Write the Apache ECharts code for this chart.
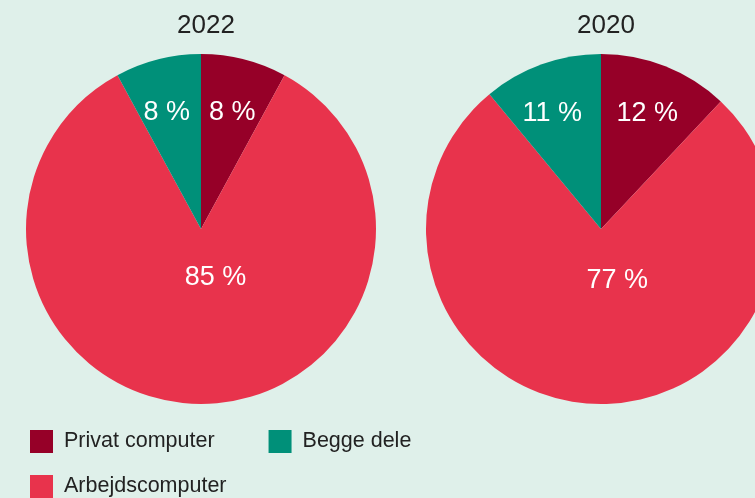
<!DOCTYPE html>
<html>
<head>
<meta charset="utf-8">
<script src="https://cdn.jsdelivr.net/npm/echarts@6/dist/echarts.min.js"></script>
<style>
html,body{margin:0;padding:0;background:#dff0ea;}
#chart{width:755px;height:498px;}
</style>
</head>
<body>
<div id="chart"></div>
<script>
// Data
const categories = ['Privat computer', 'Arbejdscomputer', 'Begge dele'];
const years = ['2022', '2020'];
const values2022 = [8, 85, 8];
const values2020 = [12, 77, 11];
const labels2022 = ['8 %', '85 %', '8 %'];
const labels2020 = ['12 %', '77 %', '11 %'];

// Styling
const colors = ['#960028', '#e8334c', '#009079'];
const font = '"Liberation Sans", Arial, Helvetica, sans-serif';
// label nudges (dx, dy) relative to default inside position
const labelShift = [
  [[9, -28.5], [14.5, -41.5], [-12, -28.5]],
  [[13, -31.5], [19, -38.5], [-18, -30.5]]
];

function makeData(vals, labs) {
  return vals.map((v, i) => ({
    name: categories[i],
    value: v,
    itemStyle: { color: colors[i] },
    label: { formatter: labs[i] }
  }));
}

const chart = echarts.init(document.getElementById('chart'));
chart.setOption({
  backgroundColor: '#dff0ea',
  animation: false,
  title: [
    { text: years[0], left: 201, top: 8, textAlign: 'center',
      textStyle: { fontFamily: font, fontSize: 26, fontWeight: 'normal', color: '#222' } },
    { text: years[1], left: 601, top: 8, textAlign: 'center',
      textStyle: { fontFamily: font, fontSize: 26, fontWeight: 'normal', color: '#222' } }
  ],
  legend: [
    { data: [categories[0], categories[2]], left: 30, top: 430, orient: 'horizontal',
      padding: 0, itemWidth: 23, itemHeight: 23, itemGap: 54, icon: 'rect',
      selectedMode: false,
      textStyle: { fontFamily: font, fontSize: 21.5, color: '#222', padding: [0, 0, 0, 6] } },
    { data: [categories[1]], left: 30, top: 475, orient: 'horizontal',
      padding: 0, itemWidth: 23, itemHeight: 23, icon: 'rect',
      selectedMode: false,
      textStyle: { fontFamily: font, fontSize: 21.5, color: '#222', padding: [0, 0, 0, 6] } }
  ],
  series: [
    { type: 'pie', center: [201, 229], radius: 175, startAngle: 90, clockwise: true,
      silent: true, data: makeData(values2022, labels2022),
      label: { show: true, position: 'inside', color: '#fff', fontFamily: font, fontSize: 27 },
      labelLine: { show: false }, itemStyle: { borderWidth: 0 },
      labelLayout: p => ({ dx: labelShift[0][p.dataIndex][0], dy: labelShift[0][p.dataIndex][1] }) },
    { type: 'pie', center: [601, 229], radius: 175, startAngle: 90, clockwise: true,
      silent: true, data: makeData(values2020, labels2020),
      label: { show: true, position: 'inside', color: '#fff', fontFamily: font, fontSize: 27 },
      labelLine: { show: false }, itemStyle: { borderWidth: 0 },
      labelLayout: p => ({ dx: labelShift[1][p.dataIndex][0], dy: labelShift[1][p.dataIndex][1] }) }
  ]
});
</script>
</body>
</html>
